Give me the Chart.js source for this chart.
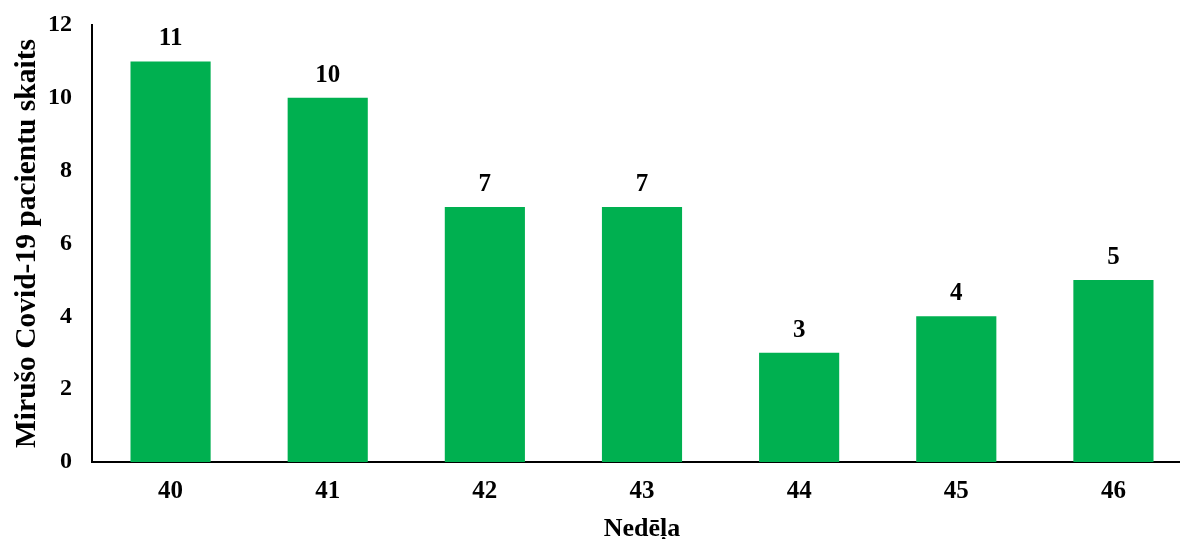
<!DOCTYPE html>
<html>
<head>
<meta charset="utf-8">
<script src="https://cdn.jsdelivr.net/npm/chart.js@4.4.0/dist/chart.umd.min.js"></script>
<style>
  html, body { margin: 0; padding: 0; background: #fff; overflow: hidden; }
  #wrap { width: 1192px; height: 539px; }
</style>
</head>
<body>
<div id="wrap"><canvas id="chart1"></canvas></div>
<script>
const WEEKS = ['40', '41', '42', '43', '44', '45', '46'];
const DEATHS = [11, 10, 7, 7, 3, 4, 5];
const Y_TICKS = [0, 2, 4, 6, 8, 10, 12];

const FONT = 'Liberation Serif, Times New Roman, serif';

// value labels above each bar
const barLabels = {
  id: 'barLabels',
  afterDatasetsDraw(chart) {
    const ctx = chart.ctx;
    const meta = chart.getDatasetMeta(0);
    ctx.save();
    ctx.font = 'bold 25px ' + FONT;
    ctx.fillStyle = '#000';
    ctx.textAlign = 'center';
    ctx.textBaseline = 'alphabetic';
    meta.data.forEach((bar, i) => {
      ctx.fillText(DEATHS[i], bar.x, bar.y - 16);
    });
    ctx.restore();
  }
};

const chart1 = new Chart(document.getElementById('chart1'), {
  type: 'bar',
  data: {
    labels: WEEKS,
    datasets: [{
      data: DEATHS,
      backgroundColor: '#00B050',
      borderWidth: 0,
      categoryPercentage: 1,
      barPercentage: 0.51,
    }]
  },
  options: {
    responsive: true,
    maintainAspectRatio: false,
    animation: false,
    layout: { padding: { top: 25, left: 0, right: 0, bottom: 0 } },
    plugins: {
      legend: { display: false },
      tooltip: { enabled: false }
    },
    scales: {
      x: {
        grid: { display: false, drawTicks: false },
        border: { display: true, color: '#000', width: 2 },
        ticks: { color: '#000', padding: 15, font: { family: FONT, size: 25, weight: 'bold' } },
        title: {
          display: true,
          text: 'Nedēļa',
          color: '#000',
          padding: { top: 0, bottom: -6 },
          font: { family: FONT, size: 26, weight: 'bold' }
        },
        afterFit: s => { s.height = 77; s.paddingLeft = 0; s.paddingRight = 0; }
      },
      y: {
        min: 0,
        max: 12,
        afterBuildTicks: s => { s.ticks = Y_TICKS.map(v => ({ value: v })); },
        grid: { display: false, drawTicks: false },
        border: { display: true, color: '#000', width: 2 },
        ticks: { color: '#000', padding: 20, font: { family: FONT, size: 24, weight: 'bold' } },
        title: {
          display: true,
          text: 'Mirušo Covid-19 pacientu skaits',
          color: '#000',
          padding: { top: 10, bottom: 0 },
          font: { family: FONT, size: 29.5, weight: 'bold' }
        },
        afterFit: s => { s.width = 92; s.paddingTop = 0; s.paddingBottom = 0; }
      }
    }
  },
  plugins: [barLabels]
});
</script>
</body>
</html>
